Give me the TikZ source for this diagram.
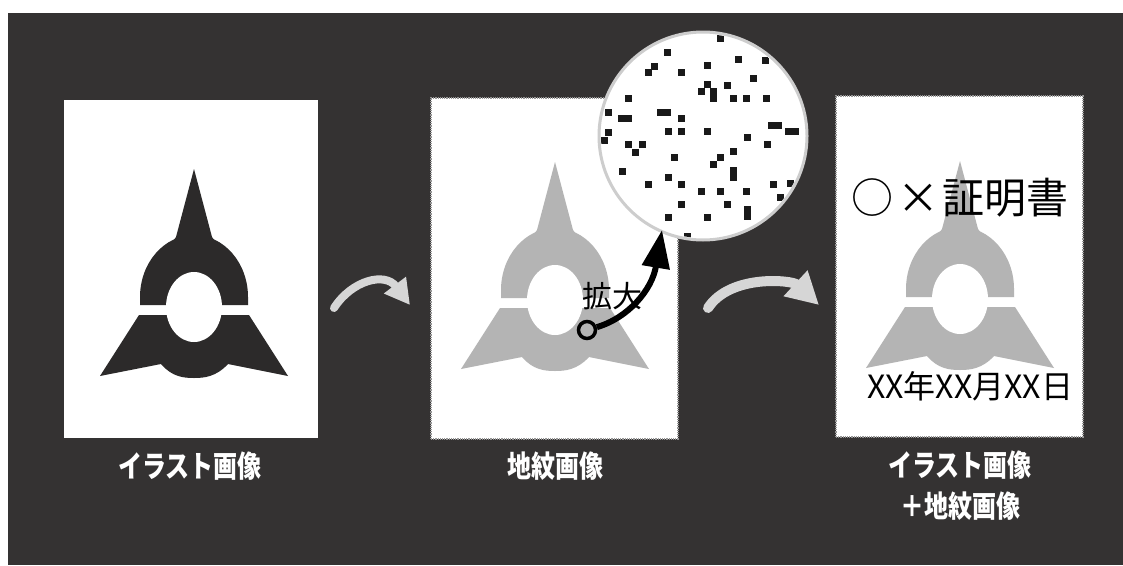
\documentclass[tikz,border=0pt]{standalone}
\usepackage{fontspec}
\newfontfamily\jp{Noto Sans CJK JP}
\newfontfamily\jplabel[FakeStretch=0.8]{Noto Sans CJK JP}
\usetikzlibrary{arrows.meta}
\definecolor{bgdark}{RGB}{52,50,50}
\definecolor{emblemdark}{RGB}{44,42,42}
\definecolor{tint}{RGB}{180,180,180}
\definecolor{arrowgray}{RGB}{214,214,214}
\definecolor{rimgray}{RGB}{205,205,205}
\definecolor{edgegray}{RGB}{150,150,150}

\tikzset{
  % the triangular emblem: spike, arch, split base, oval window
  pics/emblem/.style={code={
    \fill[#1] (-54,0) -- (-54,-8) arc[start angle=180,end angle=360,x radius=54,y radius=62] -- (54,0) -- cycle;
    \fill[#1] (0,-136) -- (-18,-68) -- (-24,-60) -- (24,-60) -- (18,-68) -- cycle;
    \fill[#1] (-55,10) -- (55,10) -- (94,71) -- (34,59)
      .. controls (22,72) and (10,73) .. (0,73)
      .. controls (-10,73) and (-22,72) .. (-33,59) -- (-94,71) -- cycle;
    \fill[white] (0,2) ellipse[x radius=28,y radius=35];
  }},
  panel/.style={fill=white,inner sep=0pt,outer sep=0pt},
  dotedge/.style={draw=edgegray,line width=1.2pt,densely dotted},
  caption/.style={text=white,font=\jplabel\bfseries\fontsize{30}{41}\selectfont,align=center},
  flowarrow/.style={draw=arrowgray,line cap=round},
}

\begin{document}
\begin{tikzpicture}[x=1pt,y=-1pt]
\useasboundingbox (0,0) rectangle (1123,565);
\fill[white] (0,0) rectangle (1123,565);
\fill[bgdark] (8,13) rectangle (1123,565);

% three sheets
\node[panel,minimum width=254pt,minimum height=338pt] (p1) at (191,269) {};
\node[panel,dotedge,minimum width=247pt,minimum height=341pt] (p2) at (554.5,268.5) {};
\node[panel,dotedge,minimum width=247pt,minimum height=341pt] (p3) at (959.5,266.5) {};

% emblems
\pic at (194,305) {emblem=emblemdark};
\pic at (555,298) {emblem=tint};
\pic at (960,297) {emblem=tint};

% magnified ground pattern
\node[circle,fill=white,draw=rimgray,line width=3pt,minimum size=208pt,inner sep=0pt] (lens) at (703,136) {};
\begin{scope}
  \clip (703,136) circle[radius=102];
  \foreach \x/\y in {720/38,667/52,738/59,654/66,648/72,681/72,707/65,753/78,765/60,
      707/84,701/91,713/91,713/98,727/85,733/98,746/98,766/98,628/98,
      608/112,681/118,668/131,681/131,707/131,608/132,604/140,
      747/137,767/144,628/144,642/144,635/152,674/157,733/151,720/157,713/164,
      622/171,668/177,648/184,681/184,701/191,720/191,746/191,773/184,790/183,780/197,
      681/204,727/204,668/217,707/217,687/236}
    \fill[black!90] (\x-3.5,\y-3.5) rectangle (\x+3.5,\y+3.5);
  \foreach \x/\y in {625/118,664/112,775/125,792/131}
    \fill[black!90] (\x-7,\y-3.5) rectangle (\x+7,\y+3.5);
  \foreach \x/\y in {733/174,747/213}
    \fill[black!90] (\x-3.5,\y-7) rectangle (\x+3.5,\y+7);
\end{scope}

% texts on the sheets
\node[font=\jp\fontsize{30}{33}\selectfont] (kakudai) at (612,296) {拡大};
\node[font=\jp\fontsize{42}{46}\selectfont] (title) at (960,198) {○\hspace{4pt}×\hspace{4pt}証明書};
\node[font=\jp\fontsize{32}{36}\selectfont] (date) at (970,386) {XX年XX月XX日};

% zoom pointer
\node[circle,draw=black,line width=3.5pt,minimum size=17pt,inner sep=0pt] (probe) at (587,330) {};
\coordinate (probetip) at (662,230);
\draw[line width=6pt,-{Triangle[length=38pt,width=27pt]}] (probe) .. controls (628,318) and (652,290) .. (probetip);

% flow arrows between sheets
\coordinate (a1s) at (334,308);
\coordinate (a1e) at (410,305);
\draw[flowarrow,line width=8pt,-{Triangle[length=25pt,width=26pt]}] (a1s) .. controls (352,280) and (385,272) .. (a1e);
\coordinate (a2s) at (708,308);
\coordinate (a2e) at (819,305);
\draw[flowarrow,line width=10pt,-{Triangle[length=32pt,width=33pt]}] (a2s) .. controls (730,274) and (792,280) .. (a2e);

% captions
\node[caption] (c1) at (190,466) {イラスト画像};
\node[caption] (c2) at (555,466) {地紋画像};
\node[caption] (c3) at (960,486) {イラスト画像\\＋地紋画像};
\end{tikzpicture}
\end{document}
